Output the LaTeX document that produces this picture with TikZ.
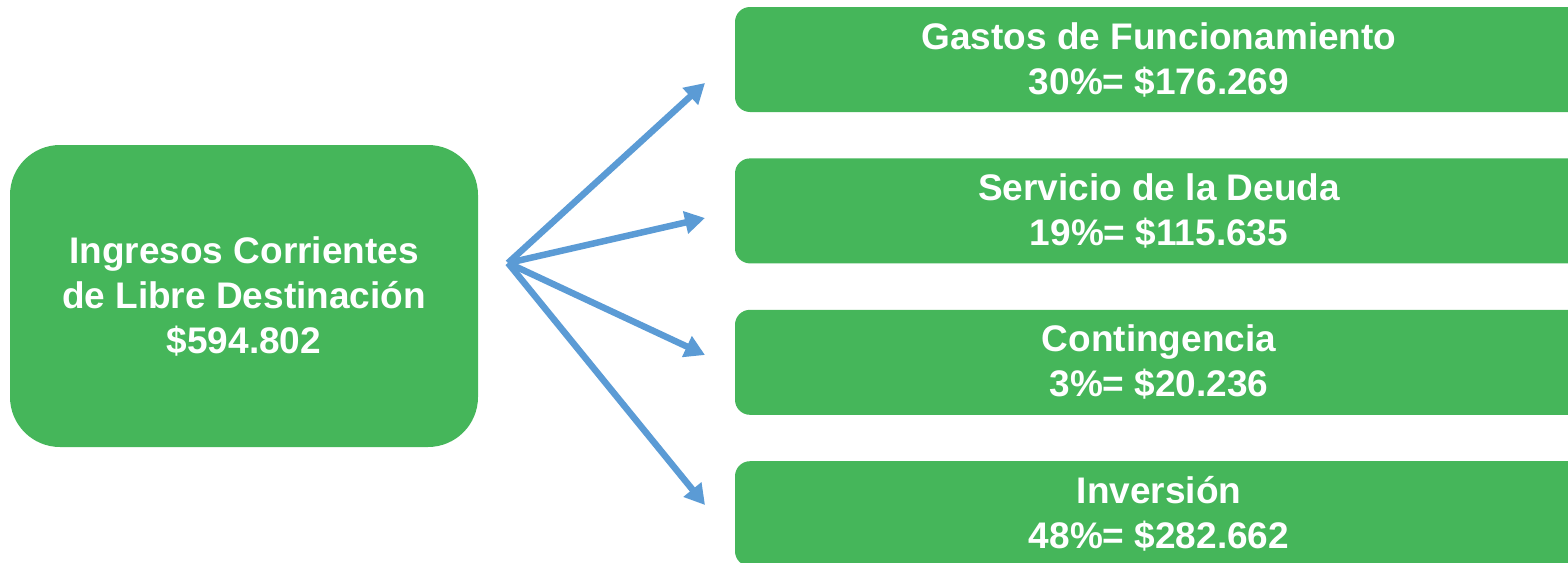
\documentclass[tikz,border=0pt]{standalone}
\usepackage{fontspec}
\setmainfont{Liberation Sans}
\usetikzlibrary{arrows.meta, positioning, calc}
\definecolor{boxgreen}{HTML}{45B65A}
\definecolor{arrowblue}{HTML}{5B9BD5}

\begin{document}
\begin{tikzpicture}[x=1pt, y=-1pt,
    boxtext/.style={text=white, align=center, inner sep=0pt, font=\bfseries\fontsize{37}{45}\selectfont},
    source/.style={rectangle, boxtext, rounded corners=50pt, fill=boxgreen, minimum width=468pt, minimum height=302pt},
    item/.style={rectangle, boxtext, rounded corners=15pt, fill=boxgreen, minimum width=848pt, minimum height=105pt},
    flow/.style={draw=arrowblue, line width=6.5pt, -{Triangle[length=20pt, width=22pt]}}]
    \useasboundingbox (0,0) rectangle (1568,562);
    \clip (0,0) rectangle (1568,562);

    % source box
    \node (Ingresos) [source] at (244,296) {Ingresos Corrientes\\de Libre Destinación\\\$594.802};

    % destinations
    \node (Gastos) [item] at (1159,59.5) {Gastos de Funcionamiento\\30\%= \$176.269};
    \node (Deuda) [item, below=46pt of Gastos] {Servicio de la Deuda\\19\%= \$115.635};
    \node (Contingencia) [item, below=46pt of Deuda] {Contingencia\\3\%= \$20.236};
    \node (Inversion) [item, below=46pt of Contingencia] {Inversión\\48\%= \$282.662};

    % arrow ends
    \coordinate (hub) at (508,263);
    \coordinate (toGastos) at (705,83);
    \coordinate (toDeuda) at (705,218);
    \coordinate (toContingencia) at (705,355);
    \coordinate (toInversion) at (705,505);

    \draw[flow] (hub) -- (toGastos);
    \draw[flow] (hub) -- (toDeuda);
    \draw[flow] (hub) -- (toContingencia);
    \draw[flow] (hub) -- (toInversion);
\end{tikzpicture}
\end{document}
